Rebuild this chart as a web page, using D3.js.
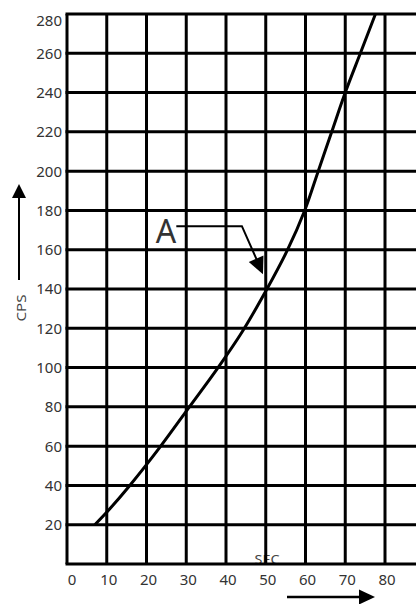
<!DOCTYPE html>
<html>
<head>
<meta charset="utf-8">
<script src="https://cdn.jsdelivr.net/npm/d3@7/dist/d3.min.js"></script>
<style>
  html, body { margin: 0; padding: 0; background: #fff; }
  svg { display: block; }
  text { font-family: "Noto Sans", "Open Sans", sans-serif; fill: #333; }
</style>
</head>
<body>
<svg id="chart" width="416" height="604"></svg>
<script>
// ---- data ----
const xTicks = [0, 10, 20, 30, 40, 50, 60, 70, 80];
const yTicks = [0, 20, 40, 60, 80, 100, 120, 140, 160, 180, 200, 220, 240, 260, 280];
const yLabels = [20, 40, 60, 80, 100, 120, 140, 160, 180, 200, 220, 240, 260, 280];
const curveSec = [7, 10.5, 15.8, 23.2, 30.8, 38, 44, 50.3, 55.5, 59.8, 63.2, 66.6, 70, 73.8, 77.6];
const curveCps = [20, 27.5, 40, 59, 80, 100, 118, 140, 160, 180, 200, 220, 240, 260, 280];
const xTitle = "SEC";
const yTitle = "CPS";
const annotationLabel = "A";

// ---- layout ----
const W = 416, H = 604;
const x = d3.scaleLinear().domain([0, 80]).range([67, 385]);
const y = d3.scaleLinear().domain([0, 280]).range([564, 14]);
const svg = d3.select("#chart");

// axis title SEC drawn beneath the frame line
svg.append("text")
  .attr("x", 267).attr("y", 564)
  .attr("text-anchor", "middle")
  .attr("font-size", 13)
  .attr("textLength", 25).attr("lengthAdjust", "spacingAndGlyphs")
  .style("fill", "#444")
  .text(xTitle);

// grid
const g = svg.append("g");
g.selectAll("line.v").data(xTicks).join("line")
  .attr("x1", d => x(d)).attr("x2", d => x(d))
  .attr("y1", y(280)).attr("y2", y(0))
  .attr("stroke", "#000").attr("stroke-width", 3);
g.selectAll("line.h").data(yTicks).join("line")
  .attr("x1", x(0) - 1.5).attr("x2", W)
  .attr("y1", d => y(d)).attr("y2", d => y(d))
  .attr("stroke", "#000").attr("stroke-width", 3);

// tick labels
svg.selectAll("text.yl").data(yLabels).join("text")
  .attr("x", 62)
  .attr("y", d => Math.max(y(d), 21))
  .attr("dy", "0.36em")
  .attr("text-anchor", "end")
  .attr("font-size", 15)
  .text(d => d);
svg.selectAll("text.xl").data(xTicks).join("text")
  .attr("x", d => Math.max(x(d) + 2, 72))
  .attr("y", 585)
  .attr("text-anchor", "middle")
  .attr("font-size", 15)
  .text(d => d);

// curve
const pts = curveSec.map((s, i) => [s, curveCps[i]]);
svg.append("path")
  .datum(pts)
  .attr("fill", "none")
  .attr("stroke", "#000")
  .attr("stroke-width", 3)
  .attr("d", d3.line().x(d => x(d[0])).y(d => y(d[1])).curve(d3.curveCatmullRom.alpha(0.5)));

// annotation A
svg.append("text")
  .attr("x", x(22.3)).attr("y", y(163.5))
  .attr("font-size", 32)
  .text(annotationLabel);
svg.append("path")
  .attr("fill", "none").attr("stroke", "#000").attr("stroke-width", 2)
  .attr("d", `M${x(27.5)},${y(172)} L${x(44)},${y(172)} L${x(48.8)},${y(150)}`);
// arrowhead
(function () {
  const tx = x(49.3), ty = y(147.5);
  const ang = Math.atan2(ty - y(172), tx - x(44));
  const len = 17, hw = 8;
  const bx = tx - len * Math.cos(ang), by = ty - len * Math.sin(ang);
  const px = -Math.sin(ang), py = Math.cos(ang);
  svg.append("path")
    .attr("fill", "#000")
    .attr("d", `M${tx},${ty} L${bx + px * hw},${by + py * hw} L${bx - px * hw},${by - py * hw} Z`);
})();

// y axis arrow + title
svg.append("line").attr("x1", 19).attr("x2", 19).attr("y1", 280).attr("y2", 195)
  .attr("stroke", "#000").attr("stroke-width", 2);
svg.append("path").attr("fill", "#000").attr("d", "M19,184 L12,198 L26,198 Z");
svg.append("text")
  .attr("transform", "translate(26,308) rotate(-90)")
  .attr("text-anchor", "middle")
  .attr("font-size", 12)
  .attr("textLength", 27).attr("lengthAdjust", "spacingAndGlyphs")
  .style("fill", "#444")
  .text(yTitle);

// x axis arrow
svg.append("line").attr("x1", 287).attr("x2", 362).attr("y1", 597).attr("y2", 597)
  .attr("stroke", "#000").attr("stroke-width", 2.5);
svg.append("path").attr("fill", "#000").attr("d", "M375,597 L359,589.5 L359,604.5 Z");
</script>
</body>
</html>
